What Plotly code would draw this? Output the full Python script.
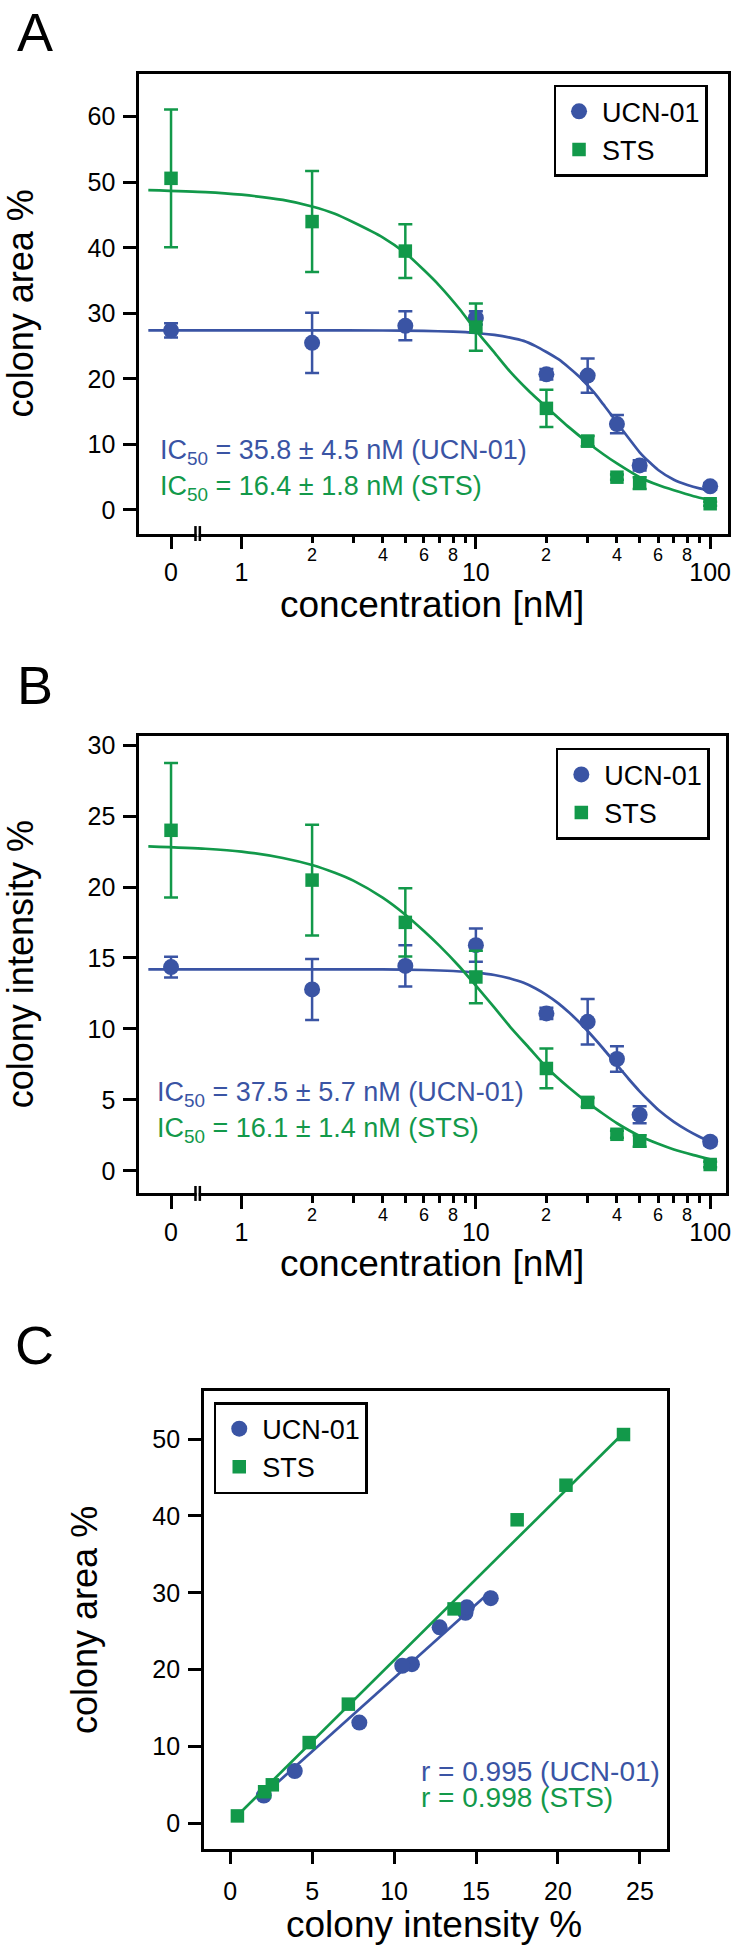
import math
import plotly.graph_objects as go

W, H = 741, 1951
BLUE = "#3a54a4"
GREEN = "#12994a"
FONT = "Liberation Sans, Arial, Helvetica, sans-serif"

# ---------------- data ----------------
conc_nM = [0, 2, 5, 10, 20, 30, 40, 50, 100]

# panel A: colony area %
ucn_area = [27.4, 25.5, 28.1, 29.3, 20.7, 20.5, 13.1, 6.8, 3.6]
ucn_area_err = [1.1, 4.6, 2.2, 1.0, 0.8, 2.6, 1.4, 0.8, 0.5]
sts_area = [50.6, 44.0, 39.5, 27.9, 15.5, 10.5, 5.0, 4.1, 0.95]
sts_area_err = [10.5, 7.7, 4.1, 3.6, 2.85, 0.8, 0.4, 0.9, 0.3]

# panel B: colony intensity %
ucn_int = [14.36, 12.78, 14.44, 15.9, 11.09, 10.5, 7.88, 3.94, 2.05]
ucn_int_err = [0.73, 2.15, 1.45, 1.17, 0.4, 1.6, 0.9, 0.6, 0.25]
sts_int = [24.0, 20.49, 17.51, 13.66, 7.21, 4.82, 2.57, 2.1, 0.44]
sts_int_err = [4.74, 3.9, 2.4, 1.85, 1.4, 0.3, 0.25, 0.4, 0.2]

# fitted dose-response curves
fitA_ucn_conc = [0.4, 1, 2, 4, 6, 8, 10, 12, 14, 16, 18, 20, 22.5, 25, 27.5, 30, 32.5, 35, 37.5,
                 40, 45, 50, 55, 60, 70, 80, 90, 100]
fitA_ucn = [27.4, 27.4, 27.4, 27.38, 27.32, 27.2, 27.0, 26.7, 26.3, 25.8, 25.0, 24.1, 23.0, 21.7, 20.4,
            19.0, 17.6, 16.1, 14.7, 13.3, 10.9, 8.8, 7.3, 6.1, 4.6, 3.8, 3.3, 3.0]
fitA_sts_conc = [0.4, 0.7, 1, 1.5, 2, 2.5, 3, 4, 5, 6, 7, 8.5, 10, 12, 14, 17, 20, 25, 30, 35, 40,
                 50, 60, 70, 85, 100]
fitA_sts = [48.8, 48.5, 48.1, 47.3, 46.3, 45.2, 43.9, 41.6, 39.2, 36.6, 34.2, 30.7, 27.4, 24.0, 21.1,
            18.0, 15.7, 12.6, 10.3, 8.5, 7.1, 5.0, 3.8, 3.0, 2.1, 1.5]
fitB_ucn_conc = [0.4, 1, 2, 4, 6, 8, 10, 12, 14, 16, 18, 20, 22.5, 25, 27.5, 30, 35, 40, 45, 50,
                 55, 60, 70, 80, 90, 100]
fitB_ucn = [14.2, 14.2, 14.2, 14.19, 14.15, 14.08, 13.97, 13.8, 13.55, 13.25, 12.85, 12.4, 11.8, 11.15,
            10.5, 9.85, 8.6, 7.45, 6.45, 5.6, 4.9, 4.3, 3.45, 2.85, 2.4, 2.05]
fitB_sts_conc = [0.4, 0.7, 1, 1.5, 2, 2.5, 3, 4, 5, 6, 7, 8.5, 10, 12, 14, 17, 20, 25, 30, 35, 40,
                 50, 60, 70, 85, 100]
fitB_sts = [22.87, 22.7, 22.5, 22.05, 21.55, 21.0, 20.45, 19.25, 18.05, 16.9, 15.85, 14.4, 13.05, 11.5,
            10.15, 8.6, 7.3, 5.85, 4.8, 4.0, 3.35, 2.45, 1.9, 1.5, 1.1, 0.8]

# panel C regression lines (end points)
lineC_ucn_x = [2.05, 15.9]
lineC_ucn_y = [3.7, 30.2]
lineC_sts_x = [0.44, 24.0]
lineC_sts_y = [1.0, 50.8]

# tick labels
major_conc_labels = ["0", "1", "10", "100"]
minor_conc_label_vals = [2, 4, 6, 8, 20, 40, 60, 80]
minor_conc_labels = ["2", "4", "6", "8", "2", "4", "6", "8"]
minor_conc_tick_vals = [2, 3, 4, 5, 6, 7, 8, 9, 20, 30, 40, 50, 60, 70, 80, 90]

ZERO_POS = 0.5  # position on the log axis where concentration 0 is drawn


def conc_pos(c):
    return [ZERO_POS if v == 0 else v for v in c]


def px(x):
    return x / W


def py(y):
    return 1 - y / H


fig = go.Figure()

CIRCLE_SIZE = 16
SQUARE_SIZE = 13.5


def add_curve(x, y, color, xa, ya, shape="spline"):
    fig.add_trace(go.Scatter(x=x, y=y, mode="lines", xaxis=xa, yaxis=ya,
                             line=dict(color=color, width=2.7, shape=shape, smoothing=0.6),
                             showlegend=False, hoverinfo="skip"))


def add_points(x, y, err, color, symbol, size, name, xa, ya, legend):
    ey = dict(type="data", array=err, visible=True, color=color, thickness=2.5, width=7) if err else dict(visible=False)
    fig.add_trace(go.Scatter(x=x, y=y, mode="markers", name=name, legend=legend,
                             xaxis=xa, yaxis=ya,
                             marker=dict(color=color, symbol=symbol, size=size, line=dict(width=0)),
                             error_y=ey, cliponaxis=False))


xc = conc_pos(conc_nM)
# Panel A
add_curve(fitA_ucn_conc, fitA_ucn, BLUE, "x", "y")
add_points(xc, ucn_area, ucn_area_err, BLUE, "circle", CIRCLE_SIZE, "UCN-01", "x", "y", "legend")
add_curve(fitA_sts_conc, fitA_sts, GREEN, "x", "y")
add_points(xc, sts_area, sts_area_err, GREEN, "square", SQUARE_SIZE, "STS", "x", "y", "legend")
# Panel B
add_curve(fitB_ucn_conc, fitB_ucn, BLUE, "x2", "y2")
add_points(xc, ucn_int, ucn_int_err, BLUE, "circle", CIRCLE_SIZE, "UCN-01", "x2", "y2", "legend2")
add_curve(fitB_sts_conc, fitB_sts, GREEN, "x2", "y2")
add_points(xc, sts_int, sts_int_err, GREEN, "square", SQUARE_SIZE, "STS", "x2", "y2", "legend2")
# Panel C
add_curve(lineC_ucn_x, lineC_ucn_y, BLUE, "x3", "y3", shape="linear")
add_points(ucn_int, ucn_area, None, BLUE, "circle", CIRCLE_SIZE, "UCN-01", "x3", "y3", "legend3")
add_curve(lineC_sts_x, lineC_sts_y, GREEN, "x3", "y3", shape="linear")
add_points(sts_int, sts_area, None, GREEN, "square", SQUARE_SIZE, "STS", "x3", "y3", "legend3")

TICKFONT = dict(size=25, color="black", family=FONT)
axis_common = dict(showline=True, linewidth=2.5, linecolor="black", mirror=True,
                   ticks="outside", ticklen=13, tickwidth=2.5, tickcolor="black",
                   showgrid=False, zeroline=False, tickfont=TICKFONT)


def conc_axis(domain, rng, anchor):
    d = dict(axis_common)
    d.update(type="log", range=rng, domain=domain, anchor=anchor,
             tickmode="array", tickvals=[ZERO_POS, 1, 10, 100], ticktext=major_conc_labels,
             ticklabelstandoff=2,
             minor=dict(tickmode="array", tickvals=minor_conc_tick_vals, ticks="outside",
                        ticklen=7, tickwidth=2.5, tickcolor="black", showgrid=False))
    return d


def lin_axis(domain, rng, anchor, dtick, standoff):
    d = dict(axis_common)
    d.update(range=rng, domain=domain, anchor=anchor, tickmode="linear", tick0=0, dtick=dtick,
             ticklabelstandoff=standoff)
    return d


rngA = [-0.4375, 2.0763]
rngB = [-0.4375, 2.0678]

fig.update_layout(
    width=W, height=H, margin=dict(l=0, r=0, t=0, b=0),
    paper_bgcolor="white", plot_bgcolor="white",
    font=dict(family=FONT, color="black"),
    xaxis=conc_axis([px(140), px(733)], rngA, "y"),
    yaxis=lin_axis([py(529.9), py(69.3)], [-3.6, 66.5], "x", 10, 3),
    xaxis2=conc_axis([px(140), px(731)], rngB, "y2"),
    yaxis2=lin_axis([py(1191.5), py(732.7)], [-1.6, 30.66], "x2", 5, 3),
    xaxis3=lin_axis([px(205.2), px(671.3)], [-1.61, 26.64], "y3", 5, 6),
    yaxis3=lin_axis([py(1848.3), py(1389.3)], [-3.3, 56.3], "x3", 10, 3),
)

leg_common = dict(xanchor="left", yanchor="top", bgcolor="white", bordercolor="black",
                  borderwidth=2.5, font=dict(size=27, color="black", family=FONT),
                  tracegroupgap=0, itemsizing="trace", itemwidth=36)
fig.update_layout(
    legend=dict(leg_common, x=px(557.3), y=py(80)),
    legend2=dict(leg_common, x=px(559.6), y=py(744.8)),
    legend3=dict(leg_common, x=px(215.2), y=py(1400.7)),
)

ann = []


def text(x, y, s, size, color="black", xanchor="left", yanchor="top", angle=0, xref="paper"):
    ann.append(dict(x=px(x) if xref == "paper" else x, y=py(y), xref=xref, yref="paper", text=s,
                    showarrow=False, xanchor=xanchor, yanchor=yanchor, textangle=angle,
                    font=dict(size=size, color=color, family=FONT)))


# panel letters
text(15, -5, "A", 54)
text(15, 650, "B", 54)
text(13, 1311, "C", 54)
# axis titles
text(434.7, 578.1, "concentration [nM]", 37, xanchor="center")
text(434.7, 1238.7, "concentration [nM]", 37, xanchor="center")
text(436.6, 1902.0, "colony intensity %", 37, xanchor="center")
text(20.7, 299.6, "colony area %", 36, xanchor="center", yanchor="middle", angle=-90)
text(20.7, 962.1, "colony intensity %", 36, xanchor="center", yanchor="middle", angle=-90)
text(84.9, 1618.8, "colony area %", 36, xanchor="center", yanchor="middle", angle=-90)
# small labels of the minor concentration ticks
for v, lab in zip(minor_conc_label_vals, minor_conc_labels):
    text(math.log10(v), 539.0, lab, 18, xanchor="center", xref="x")
    text(math.log10(v), 1200.6, lab, 18, xanchor="center", xref="x2")
# fit results
text(158.7, 429.3, "IC<sub>50</sub> = 35.8 ± 4.5 nM (UCN-01)", 27, BLUE)
text(158.7, 465.6, "IC<sub>50</sub> = 16.4 ± 1.8 nM (STS)", 27, GREEN)
text(156.2, 1072.4, "IC<sub>50</sub> = 37.5 ± 5.7 nM (UCN-01)", 27, BLUE)
text(156.2, 1109.1, "IC<sub>50</sub> = 16.1 ± 1.4 nM (STS)", 27, GREEN)
text(421.8, 1753.6, "r = 0.995 (UCN-01)", 28, BLUE)
text(421.8, 1779.1, "r = 0.998 (STS)", 28, GREEN)

# axis break marks on the concentration axes
shapes = []
for ay in (529.9, 1191.5):
    shapes.append(dict(type="rect", xref="paper", yref="paper", x0=px(197.9), x1=px(200.1),
                       y0=py(ay + 3), y1=py(ay - 3), fillcolor="white", line=dict(width=0), layer="above"))
    for bx in (196.8, 201.2):
        shapes.append(dict(type="line", xref="paper", yref="paper", x0=px(bx), x1=px(bx),
                           y0=py(ay + 7.5), y1=py(ay - 7.5), line=dict(color="black", width=2.5), layer="above"))

fig.update_layout(annotations=ann, shapes=shapes)
fig.write_html("out.html", config={"displayModeBar": False},
               post_script="document.body.style.margin='0px';document.body.style.overflow='hidden';")
